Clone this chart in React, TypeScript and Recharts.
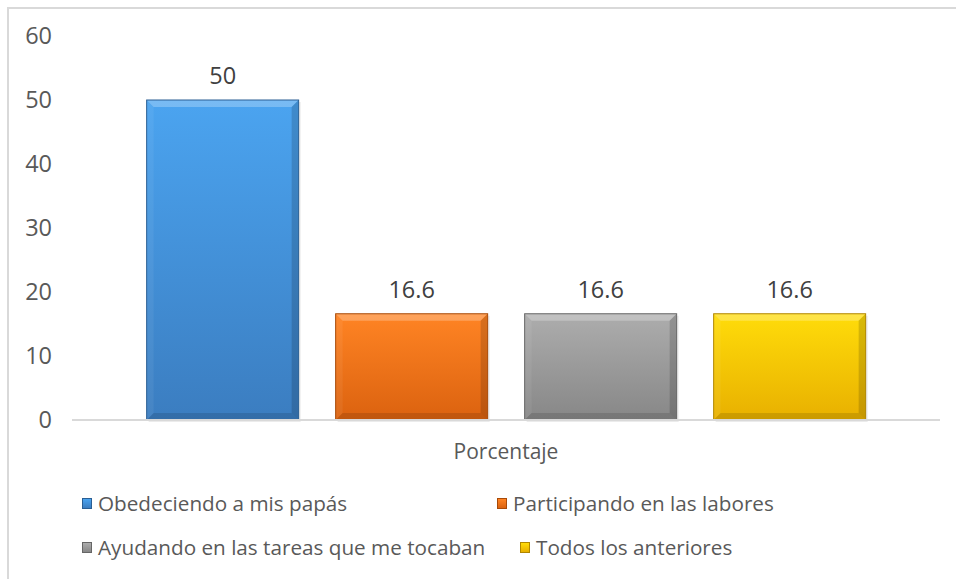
import React from "react";
import { BarChart, Bar, XAxis, YAxis, LabelList } from "recharts";

const category = "Porcentaje";
const seriesNames = [
  "Obedeciendo a mis papás",
  "Participando en las labores",
  "Ayudando en las tareas que me tocaban",
  "Todos los anteriores",
];
const seriesValues = [50, 16.6, 16.6, 16.6];
const yTicks = [0, 10, 20, 30, 40, 50, 60];

// top / bottom of each bar's gradient
const topColors = ["#4ba4f0", "#ff8424", "#adadad", "#ffdc0a"];
const bottomColors = ["#3b7dc0", "#db620f", "#878787", "#e8b000"];
const edgeColors = ["#2a5f94", "#a84a08", "#666666", "#b08600"];

const keys = seriesNames.map((_, i) => `s${i}`);
const row: Record<string, string | number> = { name: category };
keys.forEach((k, i) => {
  row[k] = seriesValues[i];
});
const data = [row];

const FONT = "'Open Sans', sans-serif";
const TEXT = "#595959";

function BevelBar(props: any) {
  const { x, y, width: w, height: h, idx } = props;
  if (!w || !h) return null;
  const b = 7;
  return (
    <g>
      <rect x={x + 2} y={y + 2} width={w} height={h} fill="#000" opacity={0.08} />
      <rect x={x} y={y} width={w} height={h} fill={`url(#grad${idx})`} />
      <polygon
        points={`${x},${y} ${x + w},${y} ${x + w - b},${y + b} ${x + b},${y + b}`}
        fill="#fff"
        opacity={0.25}
      />
      <polygon
        points={`${x},${y} ${x + b},${y + b} ${x + b},${y + h - b} ${x},${y + h}`}
        fill="#fff"
        opacity={0.06}
      />
      <polygon
        points={`${x + w},${y} ${x + w - b},${y + b} ${x + w - b},${y + h - b} ${x + w},${y + h}`}
        fill="#000"
        opacity={0.15}
      />
      <polygon
        points={`${x},${y + h} ${x + w},${y + h} ${x + w - b},${y + h - b} ${x + b},${y + h - b}`}
        fill="#000"
        opacity={0.12}
      />
      <rect x={x} y={y} width={w} height={h} fill="none" stroke={edgeColors[idx]} strokeWidth={1} />
    </g>
  );
}

function LegendIcon({ idx }: { idx: number }) {
  return (
    <span
      style={{
        display: "inline-block",
        width: 10,
        height: 11,
        marginRight: 6,
        background: `linear-gradient(${topColors[idx]}, ${bottomColors[idx]})`,
        border: `1px solid ${edgeColors[idx]}`,
        boxSizing: "border-box",
      }}
    />
  );
}

function LegendItem({ idx, left }: { idx: number; left: number }) {
  return (
    <span
      style={{
        display: "inline-flex",
        alignItems: "center",
        position: "absolute",
        left,
        whiteSpace: "nowrap",
      }}
    >
      <LegendIcon idx={idx} />
      {seriesNames[idx]}
    </span>
  );
}

export default function App() {
  return (
    <div
      style={{
        position: "fixed",
        left: 0,
        top: 0,
        width: 956,
        height: 579,
        background: "#fff",
        overflow: "hidden",
        fontFamily: FONT,
      }}
    >
      <div
        style={{
          position: "absolute",
          left: 7,
          top: 7,
          width: 980,
          height: 600,
          border: "2px solid #d9d9d9",
        }}
      />
      <BarChart
        width={956}
        height={579}
        data={data}
        margin={{ top: 36, right: 16, bottom: 129, left: 12 }}
        barCategoryGap="8.6%"
        barGap={37}
        style={{ position: "absolute", left: 0, top: 0 }}
      >
        <defs>
          {topColors.map((c, i) => (
            <linearGradient key={i} id={`grad${i}`} x1="0" y1="0" x2="0" y2="1">
              <stop offset="0%" stopColor={c} />
              <stop offset="100%" stopColor={bottomColors[i]} />
            </linearGradient>
          ))}
        </defs>
        <YAxis
          width={60}
          domain={[0, 60]}
          ticks={yTicks}
          axisLine={false}
          tickLine={false}
          tickSize={0}
          tickMargin={20}
          tick={{ fontSize: 23.5, fill: TEXT, fontFamily: FONT }}
        />
        <XAxis
          dataKey="name"
          height={30}
          axisLine={{ stroke: "#d9d9d9", strokeWidth: 2 }}
          tickLine={false}
          tickSize={0}
          tickMargin={24}
          tick={{ fontSize: 21, fill: TEXT, fontFamily: FONT }}
        />
        {keys.map((k, i) => (
          <Bar
            key={k}
            dataKey={k}
            name={seriesNames[i]}
            fill={topColors[i]}
            isAnimationActive={false}
            shape={(p: any) => <BevelBar {...p} idx={i} />}
          >
            <LabelList
              dataKey={k}
              position="top"
              offset={16}
              style={{ fontSize: 23.5, fill: "#404040", fontFamily: FONT }}
            />
          </Bar>
        ))}
      </BarChart>
      <div
        style={{
          position: "absolute",
          left: 0,
          top: 0,
          width: 956,
          fontSize: 20.7,
          color: TEXT,
          pointerEvents: "none",
        }}
      >
        <div style={{ position: "absolute", top: 489, left: 82, width: 870, height: 28 }}>
          <LegendItem idx={0} left={0} />
          <LegendItem idx={1} left={415} />
        </div>
        <div style={{ position: "absolute", top: 533, left: 82, width: 870, height: 28 }}>
          <LegendItem idx={2} left={0} />
          <LegendItem idx={3} left={438} />
        </div>
      </div>
    </div>
  );
}
